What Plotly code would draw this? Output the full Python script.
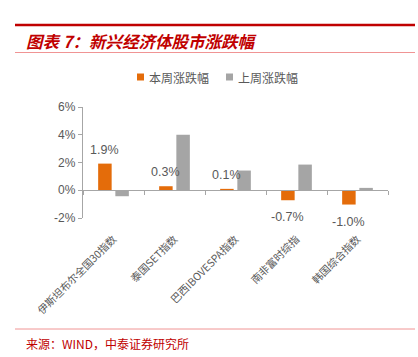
import plotly.graph_objects as go

categories = ["伊斯坦布尔全国30指数", "泰国SET指数", "巴西IBOVESPA指数", "南非富时综指", "韩国综合指数"]
this_week = [1.92, 0.29, 0.10, -0.72, -1.03]
last_week = [-0.43, 4.0, 1.42, 1.85, 0.17]
label_text = ["1.9%", "0.3%", "0.1%", "-0.7%", "-1.0%"]
series_names = ["本周涨跌幅", "上周涨跌幅"]
y_ticks = [-2, 0, 2, 4, 6]
y_tick_text = ["-2%", "0%", "2%", "4%", "6%"]

ORANGE = "#E46C0A"
GRAY = "#A5A5A5"
TEXT = "#595959"
AXIS = "#A6A6A6"
RED = "#C00000"
PINK = "#F09494"

W, H = 418, 357
L, R, T, B = 83, 388, 107, 218


def px(x):
    return (x - L) / (R - L)


def py(y):
    return (B - y) / (B - T)


fig = go.Figure()
fig.add_trace(go.Bar(x=categories, y=this_week, name=series_names[0],
                     marker=dict(color=ORANGE, line=dict(width=0)),
                     showlegend=False, hoverinfo="skip"))
fig.add_trace(go.Bar(x=categories, y=last_week, name=series_names[1],
                     marker=dict(color=GRAY, line=dict(width=0)),
                     showlegend=False, hoverinfo="skip"))
# helper trace on the overlay axis drawn at 0%
fig.add_trace(go.Scatter(x=categories, y=[0] * len(categories), xaxis="x2",
                         mode="markers", marker=dict(opacity=0),
                         showlegend=False, hoverinfo="skip"))

annotations = []
for c, v, t in zip(categories, this_week, label_text):
    annotations.append(dict(
        x=c, y=v, xref="x", yref="y", text=t, showarrow=False,
        xshift=-8.6, yshift=5 if v >= 0 else -8,
        yanchor="bottom" if v >= 0 else "top",
        font=dict(family="Liberation Sans, Arial", size=12.5, color=TEXT)))

# title & source
annotations.append(dict(
    x=px(24), y=py(41), xref="paper", yref="paper", xanchor="left", yanchor="middle",
    text="<b><i>图表 7：新兴经济体股市涨跌幅</i></b>", showarrow=False,
    font=dict(family="Noto Sans CJK SC", size=16.5, color=RED)))
annotations.append(dict(
    x=px(24), y=py(343), xref="paper", yref="paper", xanchor="left", yanchor="middle",
    text="来源：WIND，中泰证券研究所", showarrow=False,
    font=dict(family="Noto Sans CJK SC", size=12, color=RED)))

# legend (custom)
legend_items = [(series_names[0], ORANGE, 137), (series_names[1], GRAY, 226)]
shapes = []
for name, col, x0 in legend_items:
    shapes.append(dict(type="rect", xref="paper", yref="paper",
                       x0=px(x0), x1=px(x0 + 7), y0=py(80.5), y1=py(73.5),
                       fillcolor=col, line=dict(width=0)))
    annotations.append(dict(
        x=px(x0 + 10), y=py(77), xref="paper", yref="paper", xanchor="left",
        yanchor="middle", text=name, showarrow=False,
        font=dict(family="Noto Sans CJK SC", size=12, color=TEXT)))

shapes += [
    dict(type="line", xref="paper", yref="paper", x0=px(15), x1=px(415),
         y0=py(25), y1=py(25), line=dict(color=RED, width=2.5)),
    dict(type="line", xref="paper", yref="paper", x0=px(15), x1=px(415),
         y0=py(52.5), y1=py(52.5), line=dict(color=PINK, width=1)),
    dict(type="line", xref="paper", yref="paper", x0=px(15), x1=px(415),
         y0=py(329), y1=py(329), line=dict(color=PINK, width=1)),
]

fig.update_layout(
    width=W, height=H,
    margin=dict(l=L, r=W - R, t=T, b=H - B),
    paper_bgcolor="white", plot_bgcolor="white",
    barmode="group", bargap=0.436, bargroupgap=0.215,
    showlegend=False,
    xaxis=dict(type="category", categoryorder="array", categoryarray=categories,
               range=[-0.5, 4.5], showline=False, showgrid=False, zeroline=False,
               ticks="", tickangle=-45, ticklabelstandoff=12,
               tickfont=dict(family="Noto Sans CJK SC", size=10.5, color=TEXT)),
    xaxis2=dict(type="category", categoryorder="array", categoryarray=categories,
                overlaying="x", anchor="free", position=0.25, side="bottom",
                range=[-0.5, 4.5], showline=True, linecolor=AXIS, linewidth=1.3,
                ticks="outside", tickson="boundaries", ticklen=4, tickcolor=AXIS,
                showticklabels=False, showgrid=False, zeroline=False),
    yaxis=dict(range=[-2, 6], tickvals=y_ticks, ticktext=y_tick_text,
               showline=True, linecolor=AXIS, linewidth=1.3, ticks="outside",
               ticklen=4, tickcolor=AXIS, showgrid=False, zeroline=False,
               tickfont=dict(family="Liberation Sans, Arial", size=12, color=TEXT)),
    annotations=annotations, shapes=shapes,
)

fig.write_html("out.html", config={"displayModeBar": False},
               post_script="document.body.style.margin='0';document.body.style.padding='0';")
